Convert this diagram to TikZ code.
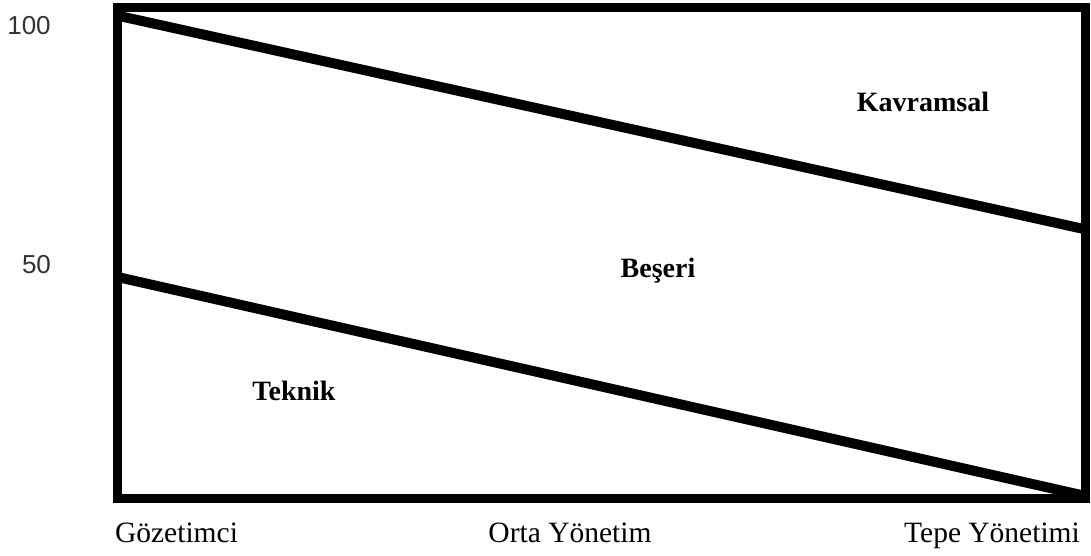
\documentclass[tikz,border=0pt]{standalone}
\usepackage{fontspec}
\setmainfont{Liberation Serif}
\newfontfamily\numfont{Liberation Sans}
\begin{document}
\begin{tikzpicture}[x=1pt,y=-1pt,
  frame/.style={line width=9pt,line join=miter},
  diag/.style={line width=10pt},
  axislabel/.style={anchor=base,inner sep=0pt,font=\fontsize{29.5}{32}\selectfont},
  zonelabel/.style={anchor=base,inner sep=0pt,font=\fontsize{28}{30}\selectfont\bfseries},
  numlabel/.style={anchor=base,inner sep=0pt,text=black!80,font=\numfont\fontsize{26}{28}\selectfont}]
\useasboundingbox (0,0) rectangle (1091,556);
\coordinate (tl) at (117.5,7.5);
\coordinate (br) at (1085.5,498);
\draw[frame] (tl) rectangle (br);
\coordinate (a1) at (117.5,15.6);
\coordinate (a2) at (1085.5,229.4);
\coordinate (b1) at (117.5,277);
\coordinate (b2) at (1085.5,496);
\draw[diag] (a1) -- (a2);
\draw[diag] (b1) -- (b2);
\node[numlabel] (n100) at (29,35) {100};
\node[numlabel] (n50) at (36.5,273) {50};
\node[axislabel] (goz) at (176.5,542) {Gözetimci};
\node[axislabel] (orta) at (570,542) {Orta Yönetim};
\node[axislabel] (tepe) at (992,542) {Tepe Yönetimi};
\node[zonelabel] (kav) at (923,112) {Kavramsal};
\node[zonelabel] (bes) at (658,277) {Beşeri};
\node[zonelabel] (tek) at (294,400) {Teknik};
\end{tikzpicture}
\end{document}
